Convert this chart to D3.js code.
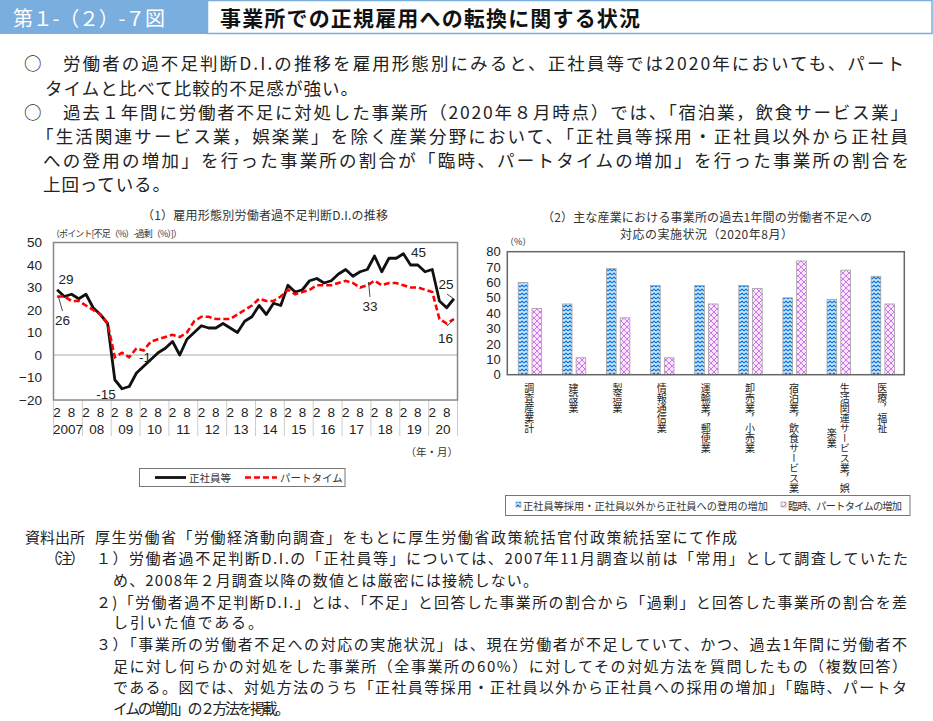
<!DOCTYPE html>
<html>
<head>
<meta charset="utf-8">
<script src="https://cdn.jsdelivr.net/npm/d3@7"></script>
<style>
  body { margin: 0; background: #fff; }
  svg { display: block; font-family: "Noto Sans CJK JP", "Noto Sans", sans-serif; }
</style>
</head>
<body>
<svg id="fig" width="933" height="721"></svg>
<script>
/*
  第1-(2)-7図 : line chart (D.I.) + grouped bar chart
*/

// ---- data : chart (1) ----
var yearLabels = ['2007', '08', '09', '10', '11', '12', '13', '14', '15', '16', '17', '18', '19', '20'];
var monthLabels = ['2', '8'];
// quarterly survey (Feb, May, Aug, Nov), 2007 Feb - 2020 Nov
var regularDI = [29, 26, 27, 25, 27, 21, 18, 14, -11, -15, -14, -8, -5, -2, 1, 3,
  6, 0, 7, 10, 13, 12, 12, 14, 12, 10, 15, 17, 22, 18, 23, 22,
  31, 28, 29, 33, 34, 32, 33, 36, 38, 35, 37, 38, 44, 37, 43, 43,
  45, 40, 40, 37, 38, 24, 21, 25];
var partDI = [26, 26, 24, 24, 22, 20, 18, 14, -1, 1, -1, 3, 2, 6, 7, 8,
  9, 8, 10, 15, 17, 17, 16, 16, 16, 18, 20, 22, 25, 24, 24, 26,
  29, 27, 28, 29, 31, 31, 31, 32, 33, 32, 30, 31, 33, 31, 32, 32,
  31, 30, 30, 29, 28, 16, 14, 16];
var yTicksL = [-20, -10, 0, 10, 20, 30, 40, 50];

// ---- data : chart (2) ----
var industries = ['調査産業計', '建設業', '製造業', '情報通信業', '運輸業，郵便業', '卸売業，小売業',
  '宿泊業，飲食サービス業', '生活関連サービス業，娯楽業', '医療，福祉'];
var seishaValues = [60, 46, 69, 58, 58, 58, 50, 49, 64];
var rinjiValues = [43, 11, 37, 11, 46, 56, 74, 68, 46];
var yTicksB = [0, 10, 20, 30, 40, 50, 60, 70, 80];
var barSeries = ['正社員等採用・正社員以外から正社員への登用の増加', '臨時、パートタイムの増加'];

var svg = d3.select('#fig');
var blue = '#7aaedf';
var numFont = '"Liberation Sans", Arial, sans-serif';

// ---------- header ----------
svg.append('rect').attr('x', 0).attr('y', 0).attr('width', 208).attr('height', 34).attr('fill', blue);
svg.append('rect').attr('x', 207.5).attr('y', 0.5).attr('width', 724.5).attr('height', 33)
  .attr('fill', '#fff').attr('stroke', blue).attr('stroke-width', 1.5);
svg.append('text').attr('x', 13).attr('y', 17).attr('dominant-baseline', 'central')
  .attr('fill', '#fff').attr('font-size', 20).attr('textLength', 152).attr('lengthAdjust', 'spacing')
  .text('第１-（２）-７図');
svg.append('text').attr('x', 220).attr('y', 17).attr('dominant-baseline', 'central')
  .attr('fill', '#111').attr('font-size', 21).attr('font-weight', 'bold')
  .attr('textLength', 420).attr('lengthAdjust', 'spacing')
  .text('事業所での正規雇用への転換に関する状況');

// ---------- summary text ----------
var bodyLines = [
  {x: 63, y: 62.5, w: 841, t: '労働者の過不足判断D.I.の推移を雇用形態別にみると、正社員等では2020年においても、パート', mark: true},
  {x: 45, y: 87, w: 313, t: 'タイムと比べて比較的不足感が強い。'},
  {x: 63, y: 111.5, w: 845, t: '過去１年間に労働者不足に対処した事業所（2020年８月時点）では、「宿泊業，飲食サービス業」', mark: true},
  {x: 36, y: 135.5, w: 872, t: '「生活関連サービス業，娯楽業」を除く産業分野において、「正社員等採用・正社員以外から正社員'},
  {x: 43, y: 159.5, w: 866, t: 'への登用の増加」を行った事業所の割合が「臨時、パートタイムの増加」を行った事業所の割合を'},
  {x: 43, y: 183.5, w: 127, t: '上回っている。'}
];
bodyLines.forEach(function(l) {
  if (l.mark) {
    svg.append('text').attr('x', 24).attr('y', l.y).attr('dominant-baseline', 'central')
      .attr('font-size', 17.5).attr('fill', '#222').text('○');
  }
  svg.append('text').attr('x', l.x).attr('y', l.y).attr('dominant-baseline', 'central')
    .attr('font-size', 17.5).attr('fill', '#222')
    .attr('textLength', l.w).attr('lengthAdjust', 'spacing').text(l.t);
});

// ---------- chart (1) line ----------
var xL = d3.scaleLinear().domain([0, 56]).range([53.5, 457.5]);
var yL = d3.scaleLinear().domain([-20, 50]).range([400, 242.5]);
var g1 = svg.append('g');

g1.append('text').attr('x', 142).attr('y', 214.3).attr('dominant-baseline', 'central')
  .attr('font-size', 12).attr('fill', '#333').attr('textLength', 246).attr('lengthAdjust', 'spacing')
  .text('（1）雇用形態別労働者過不足判断D.I.の推移');
g1.append('text').attr('x', 51).attr('y', 233.5).attr('dominant-baseline', 'central')
  .attr('font-size', 9).attr('fill', '#333').attr('textLength', 131).attr('lengthAdjust', 'spacing')
  .text('（ポイント[不足（%）-過剰（%）]）');

// zero line
g1.append('line').attr('x1', xL(0)).attr('x2', xL(56)).attr('y1', yL(0)).attr('y2', yL(0))
  .attr('stroke', '#aaa').attr('stroke-width', 1);

// y axis
var yAxisL = g1.append('g').attr('transform', 'translate(' + xL(0) + ',0)')
  .call(d3.axisLeft(yL).tickValues(yTicksL).tickSize(0).tickPadding(11.5));
yAxisL.select('.domain').remove();
yAxisL.selectAll('text').attr('font-size', 13.5).attr('fill', '#222').attr('font-family', numFont);

// year separators under the axis
g1.selectAll('.sep').data(d3.range(yearLabels.length + 1)).enter().append('line')
  .attr('x1', function(d) { return xL(d * 4); }).attr('x2', function(d) { return xL(d * 4); })
  .attr('y1', 400).attr('y2', 436).attr('stroke', '#ccc').attr('stroke-width', 1);

// month and year labels
yearLabels.forEach(function(yr, k) {
  monthLabels.forEach(function(m, j) {
    g1.append('text').attr('x', xL(k * 4 + j * 2 + 0.5)).attr('y', 412.5)
      .attr('text-anchor', 'middle').attr('dominant-baseline', 'central').attr('font-family', numFont)
      .attr('font-size', 13.5).attr('fill', '#222').text(m);
  });
  g1.append('text').attr('x', k === 0 ? xL(0) - 0.5 : xL(k * 4 + 2)).attr('y', 429)
    .attr('text-anchor', k === 0 ? 'start' : 'middle').attr('dominant-baseline', 'central')
    .attr('font-family', numFont).attr('font-size', 13.5).attr('fill', '#222').text(yr);
});
g1.append('text').attr('x', 458).attr('y', 451).attr('text-anchor', 'end').attr('dominant-baseline', 'central')
  .attr('font-size', 10.5).attr('fill', '#333').text('（年・月）');

// series
var line = d3.line().x(function(d, i) { return xL(i + 0.5); }).y(function(d) { return yL(d); });
g1.append('path').datum(regularDI).attr('d', line).attr('fill', 'none')
  .attr('stroke', '#111').attr('stroke-width', 2.8).attr('stroke-linejoin', 'round');
g1.append('path').datum(partDI).attr('d', line).attr('fill', 'none')
  .attr('stroke', '#f00').attr('stroke-width', 2.6).attr('stroke-dasharray', '6,3');

// frame
g1.append('rect').attr('x', xL(0)).attr('y', yL(50)).attr('width', xL(56) - xL(0)).attr('height', yL(-20) - yL(50))
  .attr('fill', 'none').attr('stroke', '#888').attr('stroke-width', 1.5);

// value notes
var notesL = [
  {t: '29', x: 66, y: 279},
  {t: '26', x: 62.5, y: 320},
  {t: '-15', x: 106, y: 394},
  {t: '-1', x: 145, y: 357},
  {t: '33', x: 370, y: 306},
  {t: '45', x: 418.5, y: 252.5},
  {t: '25', x: 446, y: 284.5},
  {t: '16', x: 445.5, y: 338}
];
notesL.forEach(function(n) {
  g1.append('text').attr('x', n.x).attr('y', n.y).attr('text-anchor', 'middle').attr('dominant-baseline', 'central')
    .attr('font-family', numFont).attr('font-size', 13.5).attr('fill', '#222').text(n.t);
});
var leaders = [[58.5, 297, 62.5, 311], [368.5, 282, 370, 297], [447, 294, 454, 299], [447, 326, 454, 319.5]];
leaders.forEach(function(p) {
  g1.append('line').attr('x1', p[0]).attr('y1', p[1]).attr('x2', p[2]).attr('y2', p[3])
    .attr('stroke', '#333').attr('stroke-width', 0.9);
});

// legend
g1.append('rect').attr('x', 139.5).attr('y', 468.5).attr('width', 205.5).attr('height', 18)
  .attr('fill', '#fff').attr('stroke', '#777').attr('stroke-width', 1);
g1.append('line').attr('x1', 155).attr('x2', 186).attr('y1', 477.5).attr('y2', 477.5)
  .attr('stroke', '#111').attr('stroke-width', 2.8);
g1.append('text').attr('x', 189).attr('y', 477.5).attr('dominant-baseline', 'central')
  .attr('font-size', 10.5).attr('fill', '#333').text('正社員等');
g1.append('line').attr('x1', 245).attr('x2', 277).attr('y1', 477.5).attr('y2', 477.5)
  .attr('stroke', '#f00').attr('stroke-width', 2.6).attr('stroke-dasharray', '6,3');
g1.append('text').attr('x', 280).attr('y', 477.5).attr('dominant-baseline', 'central')
  .attr('font-size', 10.5).attr('fill', '#333').text('パートタイム');

// ---------- chart (2) bars ----------
var defs = svg.append('defs');
var pb = defs.append('pattern').attr('id', 'patBlue').attr('patternUnits', 'userSpaceOnUse')
  .attr('width', 4).attr('height', 4);
pb.append('rect').attr('width', 4).attr('height', 4).attr('fill', '#c9e9fb');
pb.append('path').attr('d', 'M0,3 L2,1 L4,3').attr('fill', 'none').attr('stroke', '#0b6fd8').attr('stroke-width', 1.1);
var pp = defs.append('pattern').attr('id', 'patPink').attr('patternUnits', 'userSpaceOnUse')
  .attr('width', 6).attr('height', 6);
pp.append('rect').attr('width', 6).attr('height', 6).attr('fill', '#fbe6fd');
pp.append('path').attr('d', 'M0,0 L6,6 M6,0 L0,6').attr('fill', 'none').attr('stroke', '#c555ee').attr('stroke-width', 0.8);
var fills = ['url(#patBlue)', 'url(#patPink)'];

var xB = d3.scaleBand().domain(industries).range([507.3, 904.3]);
var pairW = 23.4;
var xSub = d3.scaleBand().domain([0, 1]).range([0, pairW]).paddingInner(0.3);
var yB = d3.scaleLinear().domain([0, 80]).range([374.7, 251.7]);
var g2 = svg.append('g');

g2.append('text').attr('x', 542).attr('y', 216).attr('dominant-baseline', 'central')
  .attr('font-size', 12).attr('fill', '#333').attr('textLength', 330).attr('lengthAdjust', 'spacing')
  .text('（2）主な産業における事業所の過去1年間の労働者不足への');
g2.append('text').attr('x', 620).attr('y', 233.5).attr('dominant-baseline', 'central')
  .attr('font-size', 12).attr('fill', '#333').attr('textLength', 173).attr('lengthAdjust', 'spacing')
  .text('対応の実施状況（2020年8月）');
g2.append('text').attr('x', 505).attr('y', 241.7).attr('dominant-baseline', 'central')
  .attr('font-size', 9).attr('fill', '#333').text('（%）');

var yAxisB = g2.append('g').attr('transform', 'translate(507.3,0)')
  .call(d3.axisLeft(yB).tickValues(yTicksB).tickSize(0).tickPadding(6.5));
yAxisB.select('.domain').remove();
yAxisB.selectAll('text').attr('font-size', 13).attr('fill', '#222').attr('font-family', numFont);

var barData = [];
industries.forEach(function(c, i) {
  barData.push({c: c, k: 0, v: seishaValues[i]});
  barData.push({c: c, k: 1, v: rinjiValues[i]});
});
g2.selectAll('.bar').data(barData).enter().append('rect')
  .attr('x', function(d) { return xB(d.c) + (xB.bandwidth() - pairW) / 2 + 0.6 + xSub(d.k); })
  .attr('y', function(d) { return yB(d.v); })
  .attr('width', xSub.bandwidth())
  .attr('height', function(d) { return yB(0) - yB(d.v); })
  .attr('fill', function(d) { return fills[d.k]; })
  .attr('stroke', '#a0a0a0').attr('stroke-width', 0.8);

g2.append('rect').attr('x', 507.3).attr('y', 251.7).attr('width', 397).attr('height', 123)
  .attr('fill', 'none').attr('stroke', '#666').attr('stroke-width', 1.5);

// vertical category labels (wrapped lines are centred on the first one)
var colLen = 11, fsCat = 10, catTop = 383;
industries.forEach(function(c) {
  var cx = xB(c) + xB.bandwidth() / 2;
  var cols = [c.slice(0, colLen), c.slice(colLen)].filter(function(s) { return s.length; });
  cols.forEach(function(s, j) {
    var x = cols.length > 1 ? cx + 6.5 - 13 * j : cx;
    var t = g2.append('text').attr('x', x).attr('font-size', fsCat).attr('fill', '#222')
      .style('writing-mode', 'vertical-rl').text(s);
    if (j === 0) {
      t.attr('y', catTop).attr('text-anchor', 'start');
    } else {
      t.attr('y', catTop + cols[0].length * fsCat / 2).attr('text-anchor', 'middle');
    }
  });
});

// legend
g2.append('rect').attr('x', 505.5).attr('y', 495.5).attr('width', 404.5).attr('height', 20)
  .attr('fill', '#fff').attr('stroke', '#777').attr('stroke-width', 1);
var legX = [{sx: 516, tx: 523, w: 245}, {sx: 781, tx: 788, w: 114}];
barSeries.forEach(function(s, k) {
  g2.append('rect').attr('x', legX[k].sx).attr('y', 502).attr('width', 5).attr('height', 5)
    .attr('fill', fills[k]).attr('stroke', '#999').attr('stroke-width', 0.6);
  g2.append('text').attr('x', legX[k].tx).attr('y', 505).attr('dominant-baseline', 'central')
    .attr('font-size', 10.2).attr('fill', '#333')
    .attr('textLength', legX[k].w).attr('lengthAdjust', 'spacing').text(s);
});

// ---------- source and notes ----------
var noteLines = [
  {x: 25, y: 536.7, w: 60, t: '資料出所'},
  {x: 95, y: 536.7, w: 642, t: '厚生労働省「労働経済動向調査」をもとに厚生労働省政策統括官付政策統括室にて作成'},
  {x: 45, y: 557.7, w: 40, t: '（注）'},
  {x: 96, y: 557.7, w: 812, t: '１）労働者過不足判断D.I.の「正社員等」については、2007年11月調査以前は「常用」として調査していたた'},
  {x: 113, y: 579.3, w: 425, t: 'め、2008年２月調査以降の数値とは厳密には接続しない。'},
  {x: 96, y: 601, w: 811, t: '２)「労働者過不足判断D.I.」とは、「不足」と回答した事業所の割合から「過剰」と回答した事業所の割合を差'},
  {x: 113, y: 621.7, w: 150, t: 'し引いた値である。'},
  {x: 96, y: 643.3, w: 811, t: '３）「事業所の労働者不足への対応の実施状況」は、現在労働者が不足していて、かつ、過去1年間に労働者不'},
  {x: 113, y: 665, w: 794, t: '足に対し何らかの対処をした事業所（全事業所の60%）に対してその対処方法を質問したもの（複数回答）'},
  {x: 113, y: 686.7, w: 794, t: 'である。図では、対処方法のうち「正社員等採用・正社員以外から正社員への採用の増加」「臨時、パートタ'},
  {x: 113, y: 707.7, w: 177, t: 'イムの増加」の２方法を掲載。'}
];
noteLines.forEach(function(l) {
  svg.append('text').attr('x', l.x).attr('y', l.y).attr('dominant-baseline', 'central')
    .attr('font-size', 15).attr('fill', '#222')
    .attr('textLength', l.w).attr('lengthAdjust', 'spacing').text(l.t);
});
</script>
</body>
</html>
